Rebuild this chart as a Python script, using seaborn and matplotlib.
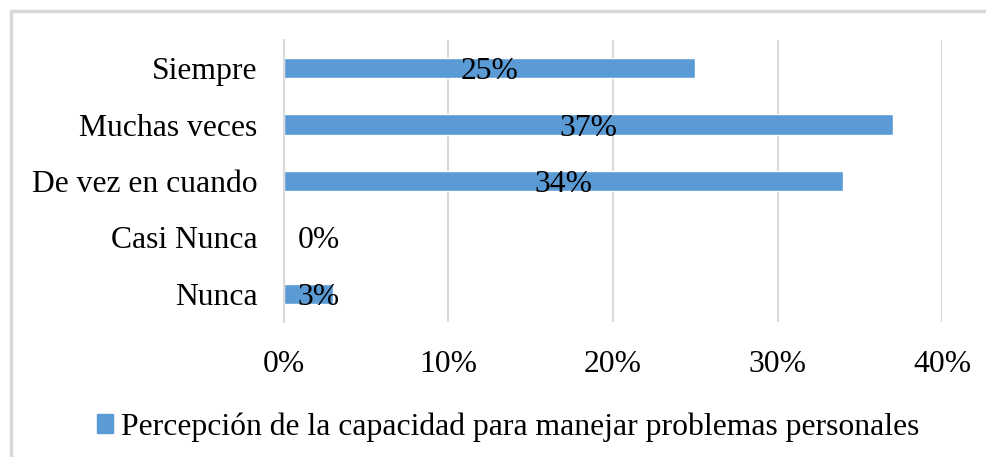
import seaborn as sns
import matplotlib.pyplot as plt
import matplotlib.patches as mpatches
from matplotlib.lines import Line2D
import pandas as pd

# data
categorias = ["Siempre", "Muchas veces", "De vez en cuando", "Casi Nunca", "Nunca"]
porcentajes = [25, 37, 34, 0, 3]
ticks_x = [0, 10, 20, 30, 40]
serie = "Percepción de la capacidad para manejar problemas personales"

color_barra = "#5B9BD5"
gris = "#D9D9D9"

sns.set_style("white")
plt.rcParams["font.family"] = ["Liberation Serif", "DejaVu Serif"]
plt.rcParams["text.color"] = "black"
plt.rcParams["xtick.color"] = "black"
plt.rcParams["ytick.color"] = "black"

df = pd.DataFrame({"categoria": categorias, "valor": porcentajes})

fig = plt.figure(figsize=(9.87, 4.57), dpi=100)
ax = fig.add_axes([284 / 987, 1 - 322 / 457, 658 / 987, 282 / 457])

sns.barplot(data=df, x="valor", y="categoria", color=color_barra,
            saturation=1, width=0.36, orient="h", ax=ax)

# data labels (Excel style, centered)
for i, v in enumerate(porcentajes):
    ax.text(max(v / 2, 2.1), i, f"{v}%", ha="center", va="center_baseline",
            fontsize=22.8, color="black")

ax.set_xlim(0, 40)
ax.set_ylim(4.5, -0.5)
ax.set_xticks(ticks_x)
ax.set_xticklabels([f"{t}%" for t in ticks_x])
ax.tick_params(axis="both", length=0, labelsize=22.8, labelcolor="black")
ax.tick_params(axis="x", pad=20)
ax.tick_params(axis="y", pad=19)
ax.set_xlabel("")
ax.set_ylabel("")
ax.grid(axis="x", color=gris, linewidth=1.5)
ax.set_axisbelow(True)
for s in ["top", "right", "bottom"]:
    ax.spines[s].set_visible(False)
ax.spines["left"].set_color(gris)
ax.spines["left"].set_linewidth(1.5)

# chart area border (only top and left visible in the reference)
fig.add_artist(Line2D([11 / 987, 1.02], [1 - 11 / 457, 1 - 11 / 457],
                      transform=fig.transFigure, color=gris, linewidth=2.5))
fig.add_artist(Line2D([11 / 987, 11 / 987], [-0.02, 1 - 11 / 457],
                      transform=fig.transFigure, color=gris, linewidth=2.5))

handle = mpatches.Patch(color=color_barra, label=serie)
fig.legend(handles=[handle], loc="center", bbox_to_anchor=(508 / 987, 1 - 427 / 457),
           frameon=False, fontsize=22.8, handlelength=0.5, handleheight=0.5,
           handletextpad=0.25)

fig.savefig("out.png", dpi=100)
